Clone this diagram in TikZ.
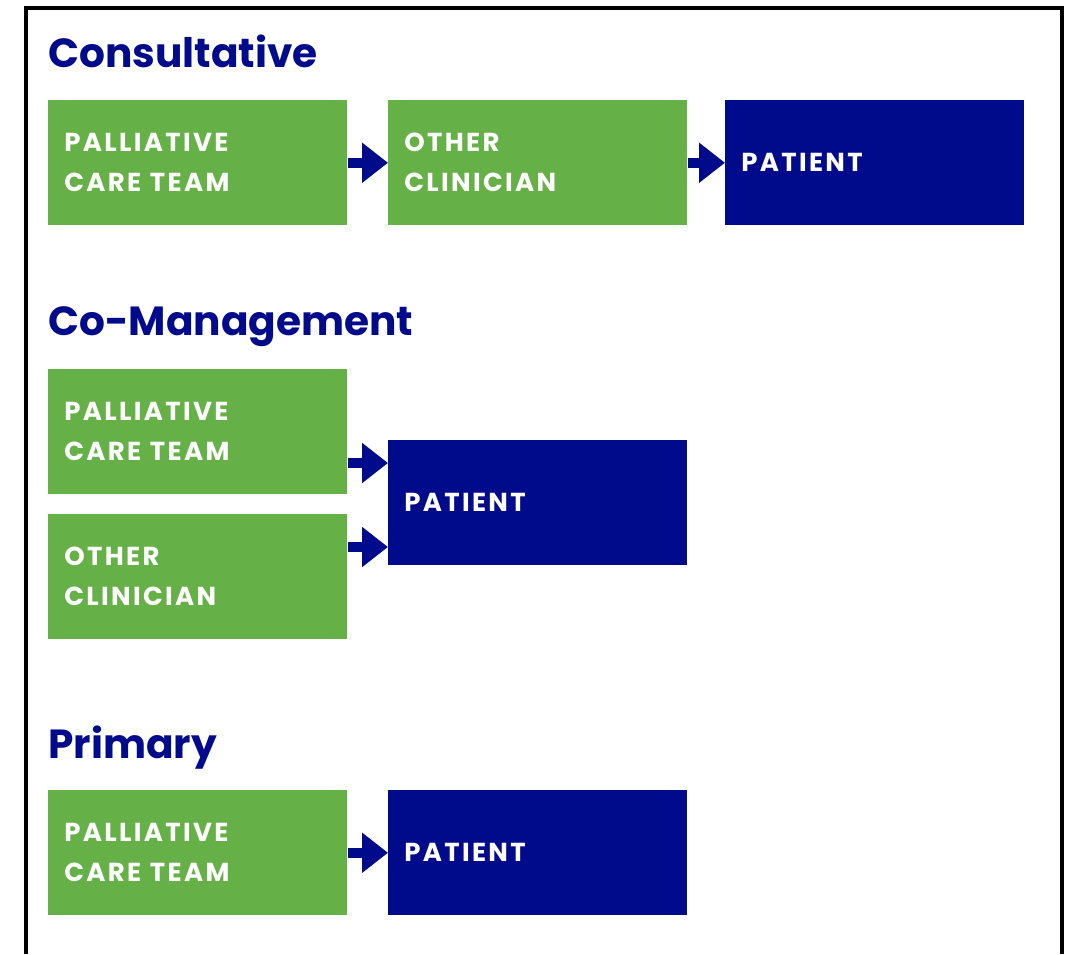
\documentclass[tikz,border=0pt]{standalone}
\usepackage{fontspec}
\setmainfont{Poppins}
\newfontfamily\boxfont{Poppins}[LetterSpace=9]
\usetikzlibrary{arrows.meta,positioning}
\definecolor{teamgreen}{RGB}{102,176,72}
\definecolor{navy}{RGB}{0,11,140}

\begin{document}
\begin{tikzpicture}[x=0.75pt,y=-0.75pt,
    box/.style={rectangle, anchor=north west, minimum width=224.25pt, minimum height=93.75pt,
        inner xsep=12pt, text width=200.25pt, align=left, text=white,
        font=\boxfont\bfseries\fontsize{19.5}{30}\selectfont},
    care/.style={box, fill=teamgreen},
    pat/.style={box, fill=navy},
    heading/.style={anchor=base west, inner sep=0pt, text=navy, font=\bfseries\fontsize{30.5}{36}\selectfont},
    flow/.style={navy, line width=7.5pt, -{Triangle[width=29pt,length=19.5pt]}}]
    \useasboundingbox (0,0) rectangle (1069,954);
    \draw[line width=3pt] (25.5,954) -- (25.5,7.5) -- (1061.5,7.5) -- (1061.5,954);

    % consultative
    \node[heading] (consult) at (48,67) {Consultative};
    \node[care] (pct1) at (48,100) {PALLIATIVE\\CARE TEAM};
    \node[care] (oc1) at (388,100) {OTHER\\CLINICIAN};
    \node[pat] (pat1) at (725,100) {PATIENT};
    \draw[flow] (pct1) -- (oc1);
    \draw[flow] (oc1) -- (pat1);

    % co-management
    \node[heading] (coman) at (48,335) {Co-Management};
    \node[care] (pct2) at (48,369) {PALLIATIVE\\CARE TEAM};
    \node[care] (oc2) at (48,514) {OTHER\\CLINICIAN};
    \node[pat] (pat2) at (388,440) {PATIENT};
    \draw[flow] (pct2.east |- 0,463) -- (pat2.west |- 0,463);
    \draw[flow] (oc2.east |- 0,547) -- (pat2.west |- 0,547);

    % primary
    \node[heading] (prim) at (48,758) {Primary};
    \node[care] (pct3) at (48,790) {PALLIATIVE\\CARE TEAM};
    \node[pat] (pat3) at (388,790) {PATIENT};
    \draw[flow] (pct3) -- (pat3);
\end{tikzpicture}
\end{document}
